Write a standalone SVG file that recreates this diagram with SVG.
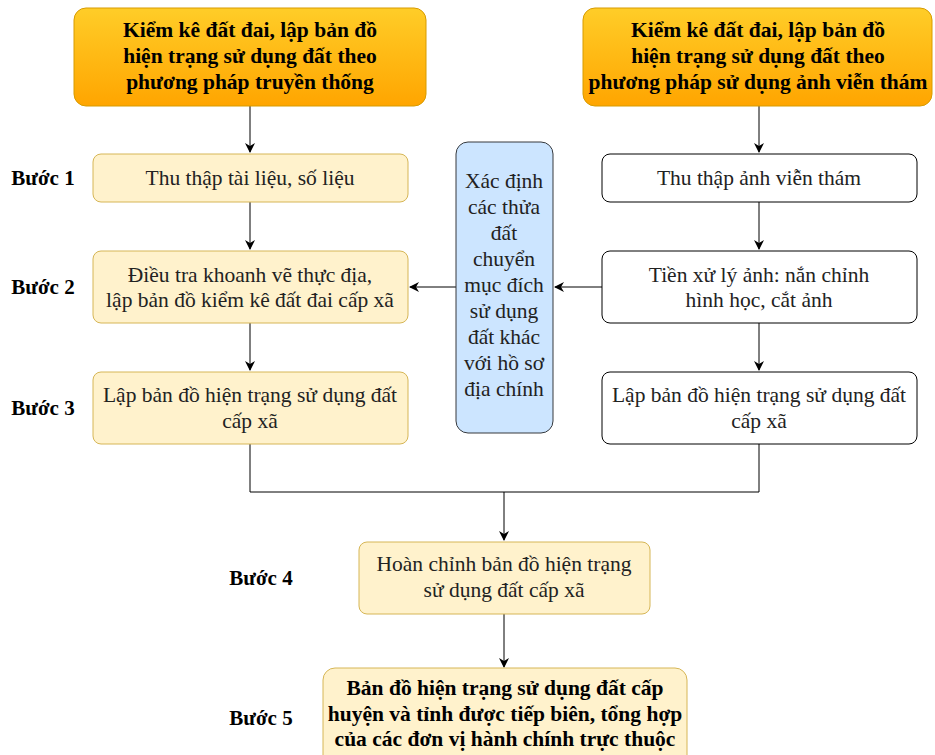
<svg xmlns="http://www.w3.org/2000/svg" width="935" height="755" viewBox="0 0 935 755">
<defs>
<linearGradient id="og" x1="0" y1="0" x2="0" y2="1">
<stop offset="0" stop-color="#FFCD28"/>
<stop offset="1" stop-color="#FFA500"/>
</linearGradient>
<marker id="arr" viewBox="0 0 10 10" refX="9" refY="5" markerWidth="10" markerHeight="10" markerUnits="userSpaceOnUse" orient="auto">
<path d="M0,0 L10,5 L0,10 L3,5 Z" fill="#000"/>
</marker>
<style>
.hdr{fill:url(#og);stroke:#D79B00;stroke-width:1}
.yel{fill:#FFF2CC;stroke:#D6B656;stroke-width:1}
.wht{fill:#FFFFFF;stroke:#000;stroke-width:1}
.blu{fill:#CCE5FF;stroke:#36393D;stroke-width:1}
text{font-family:"Liberation Serif","Times New Roman",serif;text-anchor:middle;fill:#222}
.b{font-weight:bold;font-size:21.5px;fill:#000}
.n{font-size:21.5px}
.lab{font-weight:bold;font-size:21px;fill:#000}
.c{fill:none;stroke:#000;stroke-width:1}
</style>
</defs>
<rect width="935" height="755" fill="#fff"/>
<g id="connectors">
<path class="c" d="M250,106 V152" marker-end="url(#arr)"/>
<path class="c" d="M250,202 V249" marker-end="url(#arr)"/>
<path class="c" d="M250,323 V370" marker-end="url(#arr)"/>
<path class="c" d="M759,106 V152" marker-end="url(#arr)"/>
<path class="c" d="M759,202 V249" marker-end="url(#arr)"/>
<path class="c" d="M759,323 V370" marker-end="url(#arr)"/>
<path class="c" d="M602,287 H555" marker-end="url(#arr)"/>
<path class="c" d="M456,287 H410" marker-end="url(#arr)"/>
<path class="c" d="M250,444 V492 H759 V444"/>
<path class="c" d="M504,492 V540" marker-end="url(#arr)"/>
<path class="c" d="M504,614 V667" marker-end="url(#arr)"/>
</g>
<g id="hdr-left">
<rect class="hdr" x="74" y="8" width="352" height="98" rx="12"/>
<text class="b" x="250" y="37">Kiểm kê đất đai, lập bản đồ</text>
<text class="b" x="250" y="63">hiện trạng sử dụng đất theo</text>
<text class="b" x="250" y="89">phương pháp truyền thống</text>
</g>
<g id="hdr-right">
<rect class="hdr" x="583" y="8" width="349" height="98" rx="12"/>
<text class="b" x="758" y="37">Kiểm kê đất đai, lập bản đồ</text>
<text class="b" x="758" y="63">hiện trạng sử dụng đất theo</text>
<text class="b" x="758" y="89">phương pháp sử dụng ảnh viễn thám</text>
</g>
<g id="step-labels">
<text class="lab" x="43" y="185">Bước 1</text>
<text class="lab" x="43" y="294">Bước 2</text>
<text class="lab" x="43" y="415">Bước 3</text>
<text class="lab" x="261" y="585">Bước 4</text>
<text class="lab" x="261" y="725">Bước 5</text>
</g>
<g id="l1">
<rect class="yel" x="93" y="154" width="315" height="48" rx="8"/>
<text class="n" x="250" y="185">Thu thập tài liệu, số liệu</text>
</g>
<g id="l2">
<rect class="yel" x="93" y="251" width="315" height="72" rx="8"/>
<text class="n" x="250" y="282">Điều tra khoanh vẽ thực địa,</text>
<text class="n" x="250" y="307">lập bản đồ kiểm kê đất đai cấp xã</text>
</g>
<g id="l3">
<rect class="yel" x="93" y="372" width="315" height="72" rx="8"/>
<text class="n" x="250" y="402">Lập bản đồ hiện trạng sử dụng đất</text>
<text class="n" x="250" y="428">cấp xã</text>
</g>
<g id="r1">
<rect class="wht" x="602" y="154" width="315" height="48" rx="8"/>
<text class="n" x="759" y="185">Thu thập ảnh viễn thám</text>
</g>
<g id="r2">
<rect class="wht" x="602" y="251" width="315" height="72" rx="8"/>
<text class="n" x="759" y="282">Tiền xử lý ảnh: nắn chỉnh</text>
<text class="n" x="759" y="307">hình học, cắt ảnh</text>
</g>
<g id="r3">
<rect class="wht" x="602" y="372" width="315" height="72" rx="8"/>
<text class="n" x="759" y="402">Lập bản đồ hiện trạng sử dụng đất</text>
<text class="n" x="759" y="428">cấp xã</text>
</g>
<g id="blue">
<rect class="blu" x="456" y="142" width="97" height="291" rx="12"/>
<text class="n" x="504" y="188">Xác định</text>
<text class="n" x="504" y="214">các thửa</text>
<text class="n" x="504" y="240">đất</text>
<text class="n" x="504" y="266">chuyển</text>
<text class="n" x="504" y="292">mục đích</text>
<text class="n" x="504" y="318">sử dụng</text>
<text class="n" x="504" y="344">đất khác</text>
<text class="n" x="504" y="370">với hồ sơ</text>
<text class="n" x="504" y="396">địa chính</text>
</g>
<g id="s4">
<rect class="yel" x="359" y="542" width="291" height="72" rx="8"/>
<text class="n" x="504" y="571">Hoàn chỉnh bản đồ hiện trạng</text>
<text class="n" x="504" y="597">sử dụng đất cấp xã</text>
</g>
<g id="s5">
<rect class="yel" x="323" y="668" width="364" height="100" rx="12"/>
<text class="b" x="505" y="695">Bản đồ hiện trạng sử dụng đất cấp</text>
<text class="b" x="505" y="721">huyện và tỉnh được tiếp biên, tổng hợp</text>
<text class="b" x="505" y="746">của các đơn vị hành chính trực thuộc</text>
</g>
</svg>
